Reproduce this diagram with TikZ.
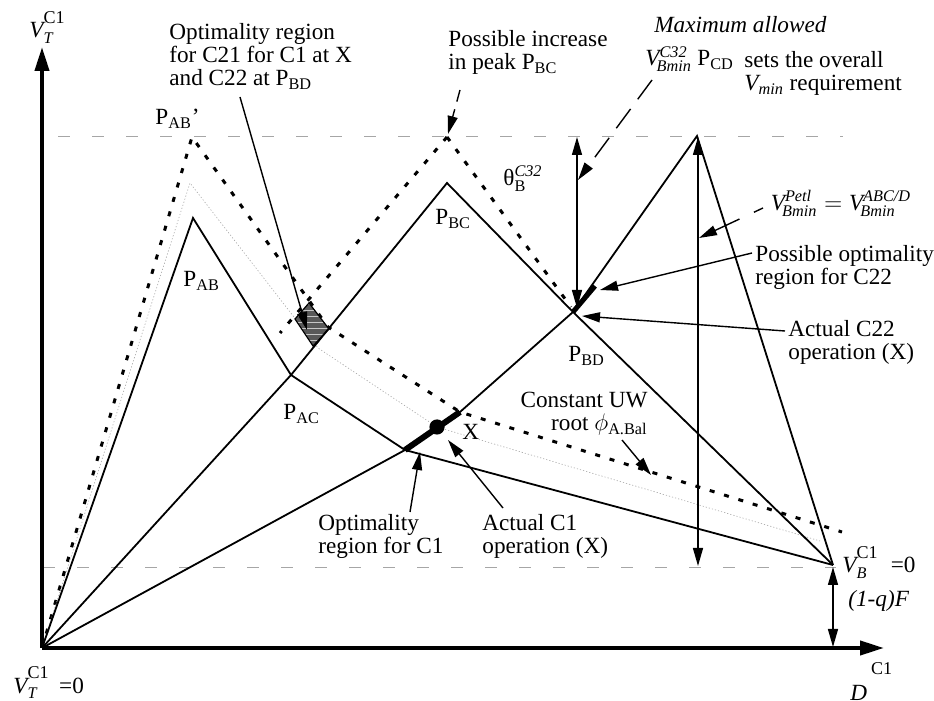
\documentclass[tikz,border=0pt]{standalone}
\usepackage{amsmath}
\usepackage{fontspec}
\setmainfont{Liberation Serif}
\usetikzlibrary{arrows.meta,patterns}

\newcommand\lblfont{\fontsize{11.6}{11.6}\selectfont}
\newcommand\cone[1][3pt]{\raisebox{#1}{\fontsize{9}{9}\selectfont C1}}

\begin{document}
\begin{tikzpicture}[x=0.5pt, y=-0.5pt,
  axis/.style={line width=2pt, -{Triangle[length=12pt,width=7pt]}},
  curve/.style={line width=0.9pt, line join=miter},
  dots/.style={line width=1.5pt, dash pattern=on 2.5pt off 5pt},
  faint/.style={gray!70, line width=0.3pt, dash pattern=on 0.6pt off 1pt},
  refline/.style={gray!70, line width=0.3pt, dash pattern=on 6pt off 11pt},
  arr/.style={line width=0.7pt, -{Triangle[length=9pt,width=5pt]}},
  dbl/.style={line width=0.7pt, {Triangle[length=9pt,width=5pt]}-{Triangle[length=9pt,width=5pt]}},
  lbl/.style={font=\lblfont, inner sep=0pt, align=left}]

  \useasboundingbox (0,0) rectangle (934,701);

  % -- key points --
  \coordinate (O) at (42,648);
  \coordinate (ytip) at (42,47);
  \coordinate (xtip) at (884,648);
  \coordinate (PAB) at (193,218);
  \coordinate (PABp) at (192,137);
  \coordinate (PAC) at (291,375);
  \coordinate (PACp) at (328,327);
  \coordinate (PBC) at (447,183);
  \coordinate (PBCp) at (447,137);
  \coordinate (PBD) at (573,312);
  \coordinate (PCD) at (697,136);
  \coordinate (VB) at (833,565);
  \coordinate (VBp) at (842,532);
  \coordinate (C1lo) at (405,450);
  \coordinate (C1hi) at (460,412);
  \coordinate (Xpt) at (437,427);
  \coordinate (C22hi) at (595,286);
  \coordinate (dB) at (280,333);
  \coordinate (dD) at (571,307);
  \coordinate (G1) at (190,183);
  \coordinate (G2) at (318,348);
  \coordinate (G3) at (820,541);

  % -- reference levels --
  \draw[refline] (58,136) coordinate (rtl) -- (843,136) coordinate (rtr);
  \draw[refline] (43,567) coordinate (rbl) -- (836,567) coordinate (rbr);

  % -- axes --
  \draw[axis] (O) -- (ytip);
  \draw[axis] (O) -- (xtip);

  % -- shifted diagram (dotted) --
  \draw[dots] (O) -- (PABp) -- (PACp) -- (C1hi) -- (VBp);
  \draw[dots] (PBCp) -- (dB);
  \draw[dots] (PBCp) -- (dD);
  \draw[faint] (O) -- (G1) -- (G2) -- (Xpt) -- (G3);

  % -- optimality region for C21 --
  \fill[gray!70!black] (295,319) coordinate (h1) -- (309,303) coordinate (h2)
    -- (329,329) coordinate (h3) -- (313,346) coordinate (h4) -- cycle;
  \fill[pattern=horizontal lines, pattern color=gray!45] (h1) -- (h2) -- (h3) -- (h4) -- cycle;
  \draw[line width=0.6pt] (h1) -- (h2) -- (h3) -- (h4) -- cycle;

  % -- Vmin diagram --
  \draw[curve] (O) -- (PAB) -- (PAC) -- (C1lo) -- (VB);
  \draw[curve] (O) -- (PAC) -- (PBC) -- (PBD) -- (VB);
  \draw[curve] (O) -- (C1lo) -- (C1hi) -- (PBD) -- (PCD) -- (VB);

  % -- optimality segments --
  \draw[line width=3pt] (C1lo) -- (C1hi);
  \fill (Xpt) circle[radius=3.8pt];
  \draw[line width=2.5pt] (PBD) -- (C22hi);

  % -- vertical measures --
  \draw[dbl] (577,137) coordinate (thtop) -- (577,308) coordinate (thbot);
  \draw[dbl] (698,137) coordinate (cdtop) -- (698,566) coordinate (cdbot);
  \draw[dbl] (833,567) coordinate (qtop) -- (833,647) coordinate (qbot);

  % -- pointers --
  \draw[arr] (240,97) coordinate (c21s) -- (307,330) coordinate (c21t);
  \draw[arr, dash pattern=on 6pt off 4pt] (460,90) coordinate (incs) -- (448,134) coordinate (inct);
  \draw[arr, dash pattern=on 12pt off 6pt] (652,80) coordinate (maxs) -- (578,180) coordinate (maxt);
  \draw[arr, dash pattern=on 5pt off 8pt on 30pt] (763,208) coordinate (petls) -- (699,238) coordinate (petlt);
  \draw[arr] (752,253) coordinate (c22os) -- (600,290) coordinate (c22ot);
  \draw[arr] (785,331) coordinate (c22as) -- (582,316) coordinate (c22at);
  \draw[arr] (622,440) coordinate (phis) -- (651,475) coordinate (phit);
  \draw[arr] (410,512) coordinate (c1os) -- (420,452) coordinate (c1ot);
  \draw[arr] (503,508) coordinate (c1as) -- (448,440) coordinate (c1at);

  % -- axis labels --
  \node[lbl, anchor=base west] (vtop) at (29,38) {\(\textit{V}_{\textit{T}}^{\cone}\)};
  \node[lbl, anchor=base west] (vzero) at (13,693) {\(\textit{V}_{\textit{T}}^{\cone}\) \,=0};
  \node[lbl, anchor=base west] (dlab) at (850,700) {\textit{D}\,\cone[13pt]};
  \node[lbl, anchor=base west] (vblab) at (842,573) {\(\textit{V}_{\textit{B}}^{\cone}\) \;=0};
  \node[lbl, anchor=base west] (qlab) at (848,607) {\textit{(1-q)F}};

  % -- peak labels --
  \node[lbl, anchor=base west] (lPABp) at (155,125) {P\textsubscript{AB}'};
  \node[lbl, anchor=base west] (lPAB) at (183,287) {P\textsubscript{AB}};
  \node[lbl, anchor=base west] (lPAC) at (283,420) {P\textsubscript{AC}};
  \node[lbl, anchor=base west] (lPBC) at (435,225) {P\textsubscript{BC}};
  \node[lbl, anchor=base west] (lPBD) at (568,362) {P\textsubscript{BD}};
  \node[lbl, anchor=base west] (lPCD) at (697,66) {P\textsubscript{CD}};
  \node[lbl, anchor=base west] (lX) at (462,440) {X};
  \node[lbl, anchor=base west] (lth) at (503,186) {\(\text{θ}_{\text{B}}^{\textit{C32}}\)};

  % -- notes --
  \node[lbl, anchor=north west] (nC21) at (169,23) {Optimality region\\for C21 for C1 at X\\and C22 at P\textsubscript{BD}};
  \node[lbl, anchor=north west] (nInc) at (448,30) {Possible increase\\in peak P\textsubscript{BC}};
  \node[lbl, anchor=north west] (nMax) at (654,16) {\textit{Maximum allowed}};
  \node[lbl, anchor=base west] (nMaxV) at (645,66) {\(\textit{V}^{\textit{C32}}_{\!\textit{Bmin}}\)};
  \node[lbl, anchor=north west] (nSets) at (744,51) {sets the overall\\\(\textit{V}_{\textit{min}}\) requirement};
  \node[lbl] (nPetl) at (841,203) {\(\textit{V}^{\textit{Petl}}_{\!\textit{Bmin}} = \textit{V}^{\textit{ABC/D}}_{\!\textit{Bmin}}\)};
  \node[lbl, anchor=north west] (nC22o) at (755,245) {Possible optimality\\region for C22};
  \node[lbl, anchor=north west] (nC22a) at (788,320) {Actual C22\\operation (X)};
  \node[lbl, anchor=north east, align=right] (nUW) at (648,392) {Constant UW\\root \(\phi_{\text{A.Bal}}\)};
  \node[lbl, anchor=north west] (nC1o) at (318,514) {Optimality\\region for C1};
  \node[lbl, anchor=north west] (nC1a) at (482,514) {Actual C1\\operation (X)};

\end{tikzpicture}
\end{document}
